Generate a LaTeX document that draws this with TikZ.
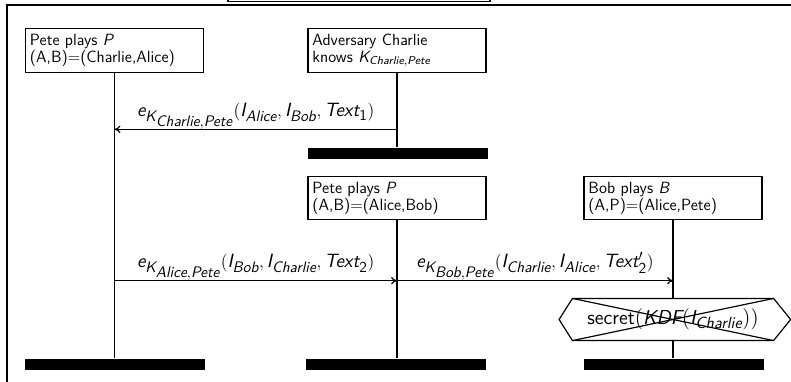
\documentclass[tikz,border=0pt]{standalone}
\usepackage{amsmath}
\usetikzlibrary{arrows.meta}
\DeclareMathSizes{13}{13}{10.3}{10.3}
\DeclareMathSizes{13.6}{13.6}{10.9}{10.9}
\newcommand\mi[1]{\textsf{\slshape #1}}
\newcommand\up[1]{\textsf{#1}}
\begin{document}
\begin{tikzpicture}[x=0.676pt,y=-0.676pt,line width=0.8pt,
  inst/.style={draw,font=\sffamily\fontsize{11}{11.6}\selectfont,align=left,text width=114.3pt,inner sep=3pt,minimum height=29.5pt,anchor=center},
  bar/.style={fill=black,draw=none,inner sep=0pt,minimum width=121.7pt,minimum height=7.4pt},
  msg/.style={-{To[length=4pt,width=5pt]}},
  lab/.style={font=\fontsize{13}{16}\selectfont,anchor=base,yshift=8.6pt,midway,inner sep=0pt},
  cond/.style={inner sep=0pt,minimum width=135.2pt,minimum height=27.7pt,font=\fontsize{13.6}{17}\selectfont}]
\useasboundingbox (0,0) rectangle (791,381);
\clip (0,0) rectangle (791,381);
% frame and title box
\draw (228,-20) rectangle (490,1.5);
\draw (7,5) rectangle (830,420);
% instance heads
\node[inst] (b1) at (114.5,50.5) {Pete plays $\mi{P}$\\(A,B)=(Charlie,Alice)};
\node[inst] (b2) at (397,50.5) {Adversary Charlie\\knows $\mi{K}_{\mi{Charlie},\mi{Pete}}$};
\node[inst] (b3) at (397,198) {Pete plays $\mi{P}$\\(A,B)=(Alice,Bob)};
\node[inst] (b4) at (673,198) {Bob plays $\mi{B}$\\(A,P)=(Alice,Pete)};
% end bars
\node[bar] (e2) at (398,153.5) {};
\node[bar] (e1) at (115,364.5) {};
\node[bar] (e3) at (396,364.5) {};
\node[bar] (e4) at (674,364.5) {};
% condition
\node[cond] (sec) at (673,319.5) {\up{secret}$(\mi{KDF}(\mi{I}_{\mi{Charlie}}))$};
% lifelines
\draw (b1.south) -- (b1.south |- e1.north);
\draw (b2.south) -- (b2.south |- e2.north);
\draw (b3.south) -- (b3.south |- e3.north);
\draw (b4.south) -- (b4.south |- sec.north);
\draw (b4.south |- sec.south) -- (b4.south |- e4.north);
\draw[fill=white] (sec.north west) -- (sec.north east) -- ([xshift=11.5pt]sec.east) -- (sec.south east) -- (sec.south west) -- ([xshift=-9pt]sec.west) -- cycle;
\node[cond] at (sec) {\up{secret}$(\mi{KDF}(\mi{I}_{\mi{Charlie}}))$};
\draw (sec.north west) -- (sec.south east);
\draw (sec.south west) -- (sec.north east);
% messages
\coordinate (y1) at (0,129.3);
\coordinate (y2) at (0,280.7);
\draw[msg] (b2.south |- y1) -- node[lab] {$\mi{e}_{\mi{K}_{\mi{Charlie},\mi{Pete}}}(\mi{I}_{\mi{Alice}},\mi{I}_{\mi{Bob}},\mi{Text}_{\up{1}})$} (b1.south |- y1);
\draw[msg] (b1.south |- y2) -- node[lab] {$\mi{e}_{\mi{K}_{\mi{Alice},\mi{Pete}}}(\mi{I}_{\mi{Bob}},\mi{I}_{\mi{Charlie}},\mi{Text}_{\up{2}})$} (b3.south |- y2);
\draw[msg] (b3.south |- y2) -- node[lab] {$\mi{e}_{\mi{K}_{\mi{Bob},\mi{Pete}}}(\mi{I}_{\mi{Charlie}},\mi{I}_{\mi{Alice}},\mi{Text}'_{\up{2}})$} (b4.south |- y2);
\end{tikzpicture}
\end{document}
